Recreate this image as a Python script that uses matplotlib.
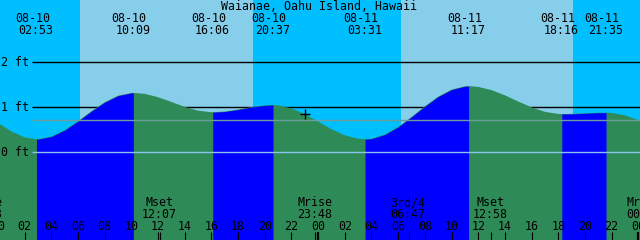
import matplotlib
matplotlib.use("Agg")
import matplotlib.pyplot as plt
import numpy as np

# ---------------- data ----------------
title = "Waianae, Oahu Island, Hawaii"

# tide extremes (day offset from 08-10, date label, time label, level ft)
tide_day = [0, 0, 0, 0, 1, 1, 1, 1]
tide_dates = ["08-10", "08-10", "08-10", "08-10", "08-11", "08-11", "08-11", "08-11"]
tide_times = ["02:53", "10:09", "16:06", "20:37", "03:31", "11:17", "18:16", "21:35"]
tide_levels = [0.29, 1.32, 0.89, 1.05, 0.29, 1.47, 0.85, 0.88]
tide_rising = [False, True, False, True, False, True, False, True]  # True = high tide

# hourly tide heights (ft), hours from 08-10 00:00
hourly_hours = list(range(0, 50))
hourly_ft = [0.653, 0.465, 0.332, 0.291, 0.349, 0.491, 0.691, 0.912, 1.113, 1.258,
             1.319, 1.299, 1.225, 1.119, 1.009, 0.925, 0.890, 0.905, 0.950, 1.005,
             1.043, 1.044, 0.977, 0.847, 0.682, 0.514, 0.377, 0.300, 0.301, 0.393,
             0.563, 0.785, 1.022, 1.236, 1.392, 1.466, 1.454, 1.382, 1.266, 1.129,
             0.998, 0.899, 0.852, 0.853, 0.866, 0.878, 0.875, 0.820, 0.717, 0.591]

# sun (day offset, time)
sun_day = [0, 0, 1, 1]
sun_times = ["06:09", "19:07", "06:13", "19:06"]   # rise, set, rise, set

# moon events
moon_names = ["Mrise", "Mset", "Mrise", "3rd/4", "Mset", "Mrise"]
moon_day = [-1, 0, 0, 1, 1, 2]
moon_times = ["23:03", "12:07", "23:48", "06:47", "12:58", "00:29"]

# level gridlines
grid_levels = [0, 1, 2]
grid_labels = ["0 ft", "1 ft", "2 ft"]
mean_level = 0.71

now_hour = 23.0
now_level = 0.847

hour_ticks = list(range(0, 49, 2))

# ---------------- style ----------------
C_DAY = "#87CEEB"
C_NIGHT = "#00BFFF"
C_FLOOD = "#0000FF"
C_EBB = "#2E8B57"
C_DATUM = "#8CC4EE"
C_MSL = "#6E9E9C"
FONT = dict(family="DejaVu Sans Mono", size=8.4, color="black")

W, H = 640, 240
XL = (0.15, 48.13)
YL = (-1.95, 3.385)
hpp = (XL[1] - XL[0]) / W


def tohour(day, t):
    hh, mm = t.split(":")
    return day * 24 + int(hh) + int(mm) / 60.0


def fy(py):
    return 1 - py / H


fig = plt.figure(figsize=(6.4, 2.4), dpi=100)
ax = fig.add_axes([0, 0, 1, 1])
ax.set_xlim(*XL)
ax.set_ylim(*YL)
ax.set_axis_off()
xt = ax.get_xaxis_transform()

# background night / day
ax.axvspan(XL[0], XL[1], color=C_NIGHT, lw=0, zorder=0)
sun_h = [tohour(d, t) for d, t in zip(sun_day, sun_times)]
for a, b in zip(sun_h[0::2], sun_h[1::2]):
    ax.axvspan(a, b, color=C_DAY, lw=0, zorder=0)

# grid lines behind tide (1 ft, 2 ft)
x0 = XL[0] + 32 * hpp
for lv in grid_levels[1:]:
    ax.hlines(lv, x0, XL[1], color="black", lw=1.0, zorder=1)

# tide curve
ext_h = [tohour(d, t) for d, t in zip(tide_day, tide_times)]
hh = np.array(hourly_hours + ext_h, dtype=float)
ff = np.array(hourly_ft + tide_levels, dtype=float)
order = np.argsort(hh)
hh, ff = hh[order], ff[order]

ax.fill_between(hh, YL[0], ff, color=C_EBB, lw=0, zorder=2)
for i in range(len(ext_h)):
    if tide_rising[i]:
        lo = ext_h[i - 1] if i > 0 else hh[0]
        hi = ext_h[i]
        m = (hh >= lo - 1e-9) & (hh <= hi + 1e-9)
        ax.fill_between(hh[m], YL[0], ff[m], color=C_FLOOD, lw=0, zorder=3)

# datum and mean lines over tide
ax.hlines(grid_levels[0], x0, XL[1], color=C_DATUM, lw=1.0, zorder=4)
ax.hlines(mean_level, x0, XL[1], color=C_MSL, lw=1.0, zorder=4)

# level labels
for lv, lab in zip(grid_levels, grid_labels):
    ypx = (YL[1] - lv) / (YL[1] - YL[0]) * H
    ax.text(XL[0] + 1 * hpp, fy(ypx + 3.7), lab, transform=xt, ha="left",
            va="baseline", zorder=6, **FONT)

# now marker
ax.plot([now_hour], [now_level], marker="+", color="black", ms=7, mew=1.0, zorder=6)

# title
ax.text(XL[0] + 319 * hpp, fy(9.5), title, transform=xt, ha="center",
        va="baseline", zorder=6, **FONT)

# tide labels
for h, d, t in zip(ext_h, tide_dates, tide_times):
    ax.text(h - 4.2 * hpp, fy(21.7), d, transform=xt, ha="center", va="baseline", zorder=6, **FONT)
    ax.text(h - 0.3 * hpp, fy(34.5), t, transform=xt, ha="center", va="baseline", zorder=6, **FONT)

# moon labels + ticks
for n, d, t in zip(moon_names, moon_day, moon_times):
    h = tohour(d, t)
    ax.text(h - 0.5 * hpp, fy(206.3), n, transform=xt, ha="center", va="baseline", zorder=6, **FONT)
    ax.text(h - 0.5 * hpp, fy(218.3), t, transform=xt, ha="center", va="baseline", zorder=6, **FONT)
    ax.vlines(h, 0, fy(231.5), transform=xt, color="black", lw=0.8, zorder=6)

# hour ticks and labels
for h in hour_ticks:
    lw = 1.6 if h % 24 == 0 else 0.8
    ax.vlines(h, 0, fy(231.5), transform=xt, color="black", lw=lw, zorder=6)
    ax.text(h, fy(229.5), f"{h % 24:02d}", transform=xt, ha="center", va="baseline", zorder=6, **FONT)

fig.savefig("out.png", dpi=100)
